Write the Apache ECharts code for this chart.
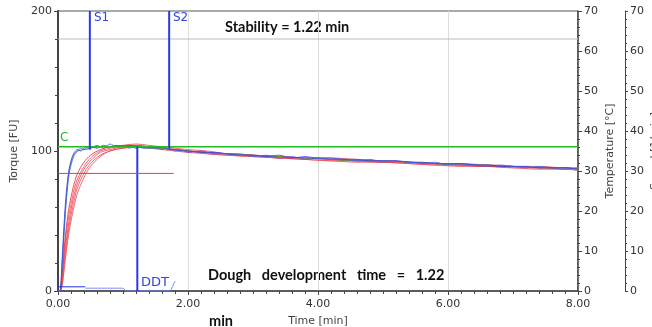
<!DOCTYPE html>
<html>
<head>
<meta charset="utf-8">
<script src="https://cdn.jsdelivr.net/npm/echarts@6/dist/echarts.min.js"></script>
<style>
  html, body { margin: 0; padding: 0; background: #fff; }
  #chart { width: 652px; height: 327px; }
</style>
</head>
<body>
<div id="chart"></div>
<script>
// time axis (min) shared by the red/green torque curves
const time = [0, 0.03, 0.06, 0.09, 0.12, 0.16, 0.20, 0.25, 0.30, 0.40, 0.50, 0.65, 0.80, 1.00, 1.20, 1.40, 1.60, 1.80, 2.00, 2.30, 2.60, 3.00, 3.40, 3.80, 4.20, 4.60, 5.00, 5.40, 5.80, 6.20, 6.60, 7.00, 7.40, 7.80, 8.00];

const green = [0, 0, 16, 40, 62, 82, 92, 98, 100, 101, 102, 103, 103, 103, 103, 102, 102, 101, 100, 99, 98, 97, 96, 95, 94, 93, 93, 92, 91, 90, 90, 89, 88, 88, 87];
const redA = [0, 0, 10, 28, 42, 57, 67, 77, 84, 92, 97, 101, 103, 104, 104, 103, 102, 101, 100, 99, 98, 97, 96, 95, 94, 93, 93, 92, 91, 90, 89, 89, 88, 88, 87];
const redB = [0, 0, 8, 24, 38, 52, 62, 73, 80, 89, 95, 100, 102, 104, 105, 104, 103, 102, 101, 100, 98, 97, 96, 95, 95, 94, 93, 92, 91, 91, 90, 89, 89, 88, 88];
const redC = [0, 0, 6, 20, 33, 47, 58, 69, 77, 87, 93, 99, 101, 103, 104, 103, 102, 101, 100, 99, 98, 97, 95, 95, 94, 93, 92, 92, 91, 90, 90, 89, 88, 88, 87];
const redD = [0, 0, 4, 16, 29, 43, 54, 65, 74, 84, 91, 97, 100, 102, 103, 103, 102, 101, 100, 98, 97, 96, 95, 94, 93, 93, 92, 91, 90, 90, 89, 88, 88, 87, 87];
const redE = [0, 0, 3, 13, 25, 39, 50, 61, 70, 81, 89, 96, 100, 102, 103, 102, 101, 100, 99, 98, 97, 96, 95, 94, 93, 92, 92, 91, 90, 89, 89, 88, 87, 87, 86];

// blue curves are noisier, so they get a denser time axis
const blueTime = [0, 0.03, 0.06, 0.09, 0.12, 0.16, 0.20, 0.25, 0.30, 0.35, 0.40, 0.50, 0.60, 0.70, 0.80, 0.90, 1.00, 1.10, 1.20, 1.30, 1.40, 1.50, 1.60, 1.70, 1.80, 1.90, 2.00, 2.20, 2.40, 2.60, 2.80, 3.00, 3.20, 3.40, 3.60, 3.80, 4.00, 4.20, 4.40, 4.60, 4.80, 5.00, 5.20, 5.40, 5.60, 5.80, 6.00, 6.20, 6.40, 6.60, 6.80, 7.00, 7.20, 7.40, 7.60, 7.80, 8.00];
const blueA = [0, 0, 20, 45, 66, 84, 93, 99, 101, 100, 102, 103, 102, 104, 103, 104, 103, 104, 102, 103, 103, 102, 103, 101, 101, 100, 100, 99, 99, 98, 97, 97, 96, 97, 95, 96, 95, 95, 94, 94, 93, 93, 93, 92, 92, 91, 91, 91, 90, 90, 89, 89, 89, 88, 88, 88, 87];
const blueB = [0, 0, 14, 38, 60, 80, 90, 97, 100, 102, 101, 102, 104, 102, 105, 103, 104, 102, 104, 102, 102, 103, 101, 102, 100, 101, 99, 100, 98, 98, 98, 96, 97, 95, 96, 94, 95, 94, 94, 93, 94, 92, 93, 92, 91, 92, 90, 91, 90, 89, 90, 89, 88, 89, 88, 87, 88];

// bottom speed/temperature trace
const lowTimeA = [0, 0.42];
const lowValA = [3, 3];
const lowTimeB = [0.42, 1.0, 1.05, 1.72, 1.76, 1.80];
const lowValB = [2, 2, 0, 0, 3, 7];

// markers
const s1 = 0.49, s2 = 1.71, ddt = 1.22;
const cLevel = 103;
const refLevel = 180;
const redRef = { from: 0, to: 1.78, value: 84 };

const xTicks = [0, 2, 4, 6, 8];

const pairs = (xs, ys) => xs.map((x, i) => [x, ys[i]]);

const chart = echarts.init(document.getElementById('chart'));

const curve = (xs, vals, color, z) => ({
  type: 'line', data: pairs(xs, vals), showSymbol: false, smooth: 0.3,
  lineStyle: { color, width: 1, opacity: 0.85 }, z, silent: true
});

chart.setOption({
  animation: false,
  grid: { left: 58, right: 74, top: 11, bottom: 36, show: true, borderColor: '#555', borderWidth: 1, containLabel: false, outerBoundsMode: 'none' },
  xAxis: {
    type: 'value', min: 0, max: 8, interval: 2,
    name: 'Time [min]', nameLocation: 'middle', nameGap: 25,
    nameTextStyle: { color: '#444', fontSize: 11, fontFamily: 'DejaVu Sans' },
    axisLine: { lineStyle: { color: '#444', width: 1.5 } },
    axisTick: { length: 4, lineStyle: { color: '#444' } },
    minorTick: { show: true, splitNumber: 10, length: 3, lineStyle: { color: '#444' } },
    axisLabel: { color: '#333', fontSize: 11, fontFamily: 'DejaVu Sans', formatter: v => xTicks.includes(v) ? v.toFixed(2) : '' },
    splitLine: { show: true, lineStyle: { color: '#ddd' } }
  },
  yAxis: [
    {
      type: 'value', min: 0, max: 200, interval: 100,
      name: 'Torque [FU]', nameLocation: 'middle', nameGap: 38,
      nameTextStyle: { color: '#444', fontSize: 11, fontFamily: 'DejaVu Sans' },
      axisLine: { show: true, lineStyle: { color: '#444', width: 2 } },
      axisTick: { show: true, length: 4, lineStyle: { color: '#444' } },
      minorTick: { show: true, splitNumber: 5, length: 3, lineStyle: { color: '#444' } },
      axisLabel: { color: '#333', fontSize: 11, fontFamily: 'DejaVu Sans', margin: 6 },
      splitLine: { show: false }
    },
    {
      type: 'value', min: 0, max: 70, interval: 10, position: 'right',
      name: 'Temperature [°C]', nameLocation: 'middle', nameGap: 27, nameRotate: 90, nameMoveOverlap: false,
      nameTextStyle: { color: '#444', fontSize: 11, fontFamily: 'DejaVu Sans' },
      axisLine: { show: true, lineStyle: { color: '#444', width: 1.5 } },
      axisTick: { show: true, length: 4, lineStyle: { color: '#444' } },
      minorTick: { show: true, splitNumber: 5, length: 2, lineStyle: { color: '#444' } },
      axisLabel: { color: '#333', fontSize: 11, fontFamily: 'DejaVu Sans', margin: 6 },
      splitLine: { show: false }
    },
    {
      type: 'value', min: 0, max: 70, interval: 10, position: 'right', offset: 47,
      name: 'Speed [1/min]', nameLocation: 'middle', nameGap: 25, nameRotate: 90, nameMoveOverlap: false,
      nameTextStyle: { color: '#444', fontSize: 11, fontFamily: 'DejaVu Sans' },
      axisLine: { show: true, lineStyle: { color: '#444', width: 1 } },
      axisTick: { show: true, length: 3, lineStyle: { color: '#444' } },
      minorTick: { show: true, splitNumber: 5, length: 2, lineStyle: { color: '#444' } },
      axisLabel: { color: '#333', fontSize: 11, fontFamily: 'DejaVu Sans', margin: 5 },
      splitLine: { show: false }
    }
  ],
  series: [
    { type: 'line', data: [[0, refLevel], [8, refLevel]], showSymbol: false, lineStyle: { color: '#bbb', width: 1 }, silent: true, z: 1 },
    { type: 'line', data: [[redRef.from, redRef.value], [redRef.to, redRef.value]], showSymbol: false, lineStyle: { color: '#f03a3a', width: 1 }, silent: true, z: 9 },
    curve(time, redE, '#f0505a', 4),
    curve(time, redD, '#f0505a', 4),
    curve(time, redC, '#ee4450', 4),
    curve(time, redB, '#f0505a', 4),
    curve(time, redA, '#e8303c', 4),
    curve(time, green, '#44aa44', 5),
    curve(blueTime, blueB, '#5560f0', 6),
    curve(blueTime, blueA, '#3a46e8', 6),
    { type: 'line', data: [[0, cLevel], [8, cLevel]], showSymbol: false, lineStyle: { color: '#22bb22', width: 1.5 }, silent: true, z: 7 },
    { type: 'line', data: [[s1, 200], [s1, 101]], showSymbol: false, lineStyle: { color: '#2a3ae8', width: 2 }, silent: true, z: 8 },
    { type: 'line', data: [[s2, 200], [s2, 102]], showSymbol: false, lineStyle: { color: '#2a3ae8', width: 2 }, silent: true, z: 8 },
    { type: 'line', data: [[ddt, 0], [ddt, cLevel]], showSymbol: false, lineStyle: { color: '#2a3ae8', width: 2 }, silent: true, z: 8 },
    { type: 'line', data: pairs(lowTimeA, lowValA), showSymbol: false, lineStyle: { color: '#2233dd', width: 1 }, silent: true, z: 6 },
    { type: 'line', data: pairs(lowTimeB, lowValB), showSymbol: false, smooth: 0.2, lineStyle: { color: '#7a88ff', width: 1 }, silent: true, z: 6 }
  ],
  graphic: [
    { type: 'text', left: 94, top: 12, style: { text: 'S1', fill: '#3344dd', font: '12px "DejaVu Sans"' } },
    { type: 'text', left: 173, top: 12, style: { text: 'S2', fill: '#3344dd', font: '12px "DejaVu Sans"' } },
    { type: 'text', left: 60, top: 132, style: { text: 'C', fill: '#22bb22', font: '12px "DejaVu Sans"' } },
    { type: 'text', left: 141, top: 276, style: { text: 'DDT', fill: '#3344dd', font: '13px "DejaVu Sans"' } },
    { type: 'text', left: 225, top: 20, style: { text: 'Stability = 1.22 min', fill: '#111', font: 'bold 14.5px Lato' } },
    { type: 'text', left: 208, top: 268, style: { text: 'Dough   development   time   =   1.22', fill: '#111', font: 'bold 14.5px Lato' } },
    { type: 'text', left: 209, top: 314, style: { text: 'min', fill: '#111', font: 'bold 14.5px Lato' } }
  ]
});
</script>
</body>
</html>
